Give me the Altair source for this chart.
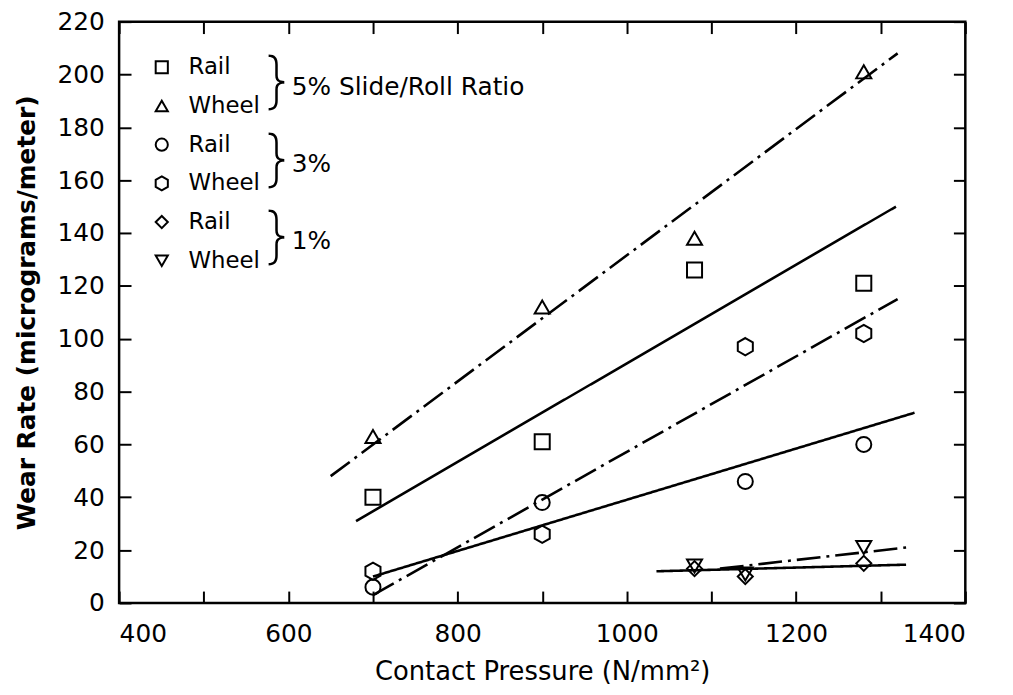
import altair as alt
import pandas as pd

# ---------------- data ----------------
x_5 = [700, 900, 1080, 1280]
rail_5 = [40, 61, 126, 121]
wheel_5 = [63, 112, 138, 201]
x_3 = [700, 900, 1140, 1280]
rail_3 = [6, 38, 46, 60]
wheel_3 = [12, 26, 97, 102]
x_1 = [1080, 1140, 1280]
rail_1 = [13, 10, 15]
wheel_1 = [14, 11, 21]

fit_names = ["5% Wheel", "5% Rail", "3% solid", "3% dashdot", "1% solid", "1% dashdot"]
fit_x0 = [650, 680, 700, 700, 1035, 1110]
fit_x1 = [1320, 1318, 1340, 1320, 1330, 1330]
fit_y0 = [48, 31, 10, 3, 12, 13]
fit_y1 = [208, 150, 72, 115, 14.5, 21]
fit_style = ["dashdot", "solid", "solid", "dashdot", "solid", "dashdot"]

series_names = ["5% Rail", "5% Wheel", "3% Rail", "3% Wheel", "1% Rail", "1% Wheel"]
legend_labels = ["Rail", "Wheel", "Rail", "Wheel", "Rail", "Wheel"]
group_labels = ["5% Slide/Roll Ratio", "3%", "1%"]
x_ticks = list(range(400, 1401, 100))
y_ticks = list(range(0, 221, 20))

HEX = "M0,-1.15L1,-0.58L1,0.58L0,1.15L-1,0.58L-1,-0.58Z"
shapes = ["square", "triangle-up", "circle", HEX, "diamond", "triangle-down"]

FONT = "DejaVu Sans"

# ---------------- tables ----------------
pts = []
for name, xs, ys in [
    ("5% Rail", x_5, rail_5), ("5% Wheel", x_5, wheel_5),
    ("3% Rail", x_3, rail_3), ("3% Wheel", x_3, wheel_3),
    ("1% Rail", x_1, rail_1), ("1% Wheel", x_1, wheel_1),
]:
    for xv, yv in zip(xs, ys):
        pts.append({"series": name, "x": xv, "y": yv})
pts = pd.DataFrame(pts)

lines = []
for n, a, b, c, d, s in zip(fit_names, fit_x0, fit_x1, fit_y0, fit_y1, fit_style):
    lines.append({"fit": n, "x": a, "y": c, "style": s})
    lines.append({"fit": n, "x": b, "y": d, "style": s})
lines = pd.DataFrame(lines)

row0, step = 46, 39
leg = pd.DataFrame({
    "label": legend_labels,
    "shape": shapes,
    "ly": [row0 + step * i for i in range(6)],
})
grp = pd.DataFrame({
    "label": group_labels,
    "brace": ["}", "}", "}"],
    "ly": [row0 + step * (2 * i + 0.5) for i in range(3)],
})

xs = alt.Scale(domain=[400, 1400], nice=False, zero=False)
ys = alt.Scale(domain=[0, 220], nice=False, zero=False)

x_bottom = alt.Axis(orient="bottom", offset=-12, values=x_ticks, tickSize=12,
                    labelExpr="datum.value % 200 == 0 ? datum.label : ''",
                    labelPadding=19, format="d",
                    title="Contact Pressure (N/mm²)", titlePadding=12,
                    titleFontSize=26, titleFontWeight="normal")
y_left = alt.Axis(orient="left", offset=-12, values=y_ticks, tickSize=12,
                  labelPadding=15, title="Wear Rate (micrograms/meter)",
                  titlePadding=18, titleFontSize=25, titleFontWeight="bold")
x_top = alt.Axis(orient="top", offset=-12, values=x_ticks, tickSize=12,
                 labels=False, title=None)
y_right = alt.Axis(orient="right", offset=-12, values=y_ticks, tickSize=12,
                   labels=False, title=None)

points = alt.Chart(pts).mark_point(filled=False, color="black", strokeWidth=2,
                                   size=230, opacity=1).encode(
    x=alt.X("x:Q", scale=xs, axis=x_bottom),
    y=alt.Y("y:Q", scale=ys, axis=y_left),
    shape=alt.Shape("series:N", scale=alt.Scale(domain=series_names, range=shapes),
                    legend=None),
)

fit_lines = alt.Chart(lines).mark_line(color="black", strokeWidth=2.6).encode(
    x=alt.X("x:Q", scale=xs, axis=x_top),
    y=alt.Y("y:Q", scale=ys, axis=y_right),
    detail="fit:N",
    strokeDash=alt.StrokeDash("style:N", scale=alt.Scale(
        domain=["solid", "dashdot"], range=[[1, 0], [24, 6, 3, 6]]), legend=None),
)

leg_sym = alt.Chart(leg).mark_point(filled=False, color="black", strokeWidth=2,
                                    size=150, opacity=1).encode(
    x=alt.value(43),
    y=alt.Y("ly:Q", scale=None, axis=None),
    shape=alt.Shape("shape:N", scale=None),
)
leg_txt = alt.Chart(leg).mark_text(align="left", baseline="middle", fontSize=23,
                                   font=FONT, color="black").encode(
    x=alt.value(70),
    y=alt.Y("ly:Q", scale=None, axis=None),
    text="label:N",
)
braces = alt.Chart(grp).mark_text(align="center", baseline="middle", fontSize=62,
                                  font="Inter", fontWeight=200,
                                  color="black", dy=-3).encode(
    x=alt.value(159),
    y=alt.Y("ly:Q", scale=None, axis=None),
    text="brace:N",
)
grp_txt = alt.Chart(grp).mark_text(align="left", baseline="middle", fontSize=25,
                                   font=FONT, color="black").encode(
    x=alt.value(174),
    y=alt.Y("ly:Q", scale=None, axis=None),
    text="label:N",
)

chart = alt.layer(fit_lines, points, leg_sym, leg_txt, braces, grp_txt).resolve_axis(
    x="independent", y="independent"
).properties(
    width=853, height=586,
    autosize=alt.AutoSizeParams(type="none"),
    padding={"left": 112, "top": 11, "right": 40, "bottom": 90},
    background="white",
).configure_view(
    stroke="black", strokeWidth=2.5
).configure_axis(
    domain=False, grid=False, tickColor="black", tickWidth=2,
    labelFont=FONT, labelFontSize=25, labelColor="black",
    titleFont=FONT, titleColor="black",
)

chart.save("out.html", embed_options={"renderer": "svg", "actions": False})
